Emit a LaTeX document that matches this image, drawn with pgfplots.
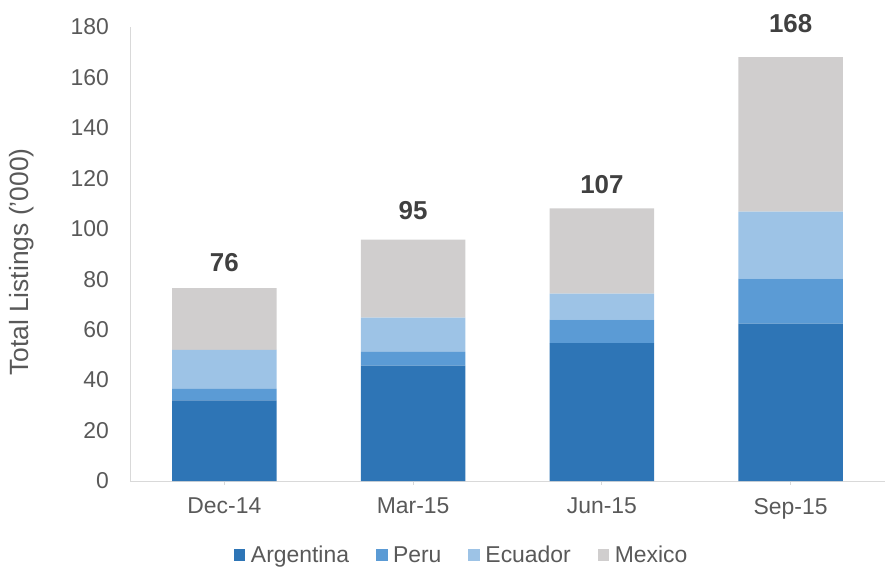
\documentclass[border=0pt]{standalone}
\usepackage{pgfplots}
\pgfplotsset{compat=1.18}
\usepackage{fontspec}
\setmainfont{Liberation Sans}
\definecolor{arg}{HTML}{2E75B6}
\definecolor{peru}{HTML}{5B9BD5}
\definecolor{ecu}{HTML}{9DC3E6}
\definecolor{mex}{HTML}{D0CECE}
\definecolor{txt}{HTML}{595959}
\definecolor{tot}{HTML}{404040}
\definecolor{axl}{HTML}{D9D9D9}
\begin{document}
\begin{tikzpicture}
\useasboundingbox (0,0) rectangle (888bp,568bp);
\begin{axis}[
  at={(130bp,87bp)}, anchor=south west,
  scale only axis, width=755bp, height=454bp,
  ybar stacked, bar width=0.553,
  xmin=-0.5, xmax=3.5, ymin=0, ymax=180,
  xtick=data, xticklabels={Dec-14,Mar-15,Jun-15,Sep-15},
  ytick={0,20,...,180},
  axis x line*=bottom, axis y line*=left,
  axis line style={axl, line width=1bp},
  every outer x axis line/.append style={-},
  every outer y axis line/.append style={-},
  x tick style={axl, line width=1bp}, major tick length=4bp, tick align=outside,
  xtick pos=bottom, ytick style={draw=none},
  tick label style={font=\fontsize{23}{25}\selectfont, text=txt, inner sep=0pt},
  /pgf/number format/assume math mode=true,
  yticklabel style={anchor=east, xshift=-17bp},
  xticklabel style={anchor=north, yshift=-13bp},
  ylabel={Total Listings ('000)},
  every axis y label/.style={at={(axis description cs:-0.143,0.482)}, rotate=90, anchor=center,
    font=\fontsize{26.5}{28}\selectfont, text=txt},
  legend style={at={(0.438,-0.163)}, anchor=center, draw=none, legend columns=4,
    font=\fontsize{23}{25}\selectfont, text=txt,
    nodes={inner sep=0pt},
    /tikz/every odd column/.append style={column sep=5.5bp},
    /tikz/every even column/.append style={column sep=27bp}},
  legend image code/.code={\fill[#1] (0bp,-5.8bp) rectangle (11.5bp,5.8bp);},
  legend cell align=left,
  clip=false,
]
\addplot[fill=arg, draw=none] coordinates {(0,32.0) (1,45.7) (2,54.7) (3,62.4)};
\addplot[fill=peru, draw=none] coordinates {(0,4.5) (1,5.5) (2,9.3) (3,17.8)};
\addplot[fill=ecu, draw=none] coordinates {(0,15.5) (1,13.6) (2,10.3) (3,26.6)};
\addplot[fill=mex, draw=none] coordinates {(0,24.5) (1,30.9) (2,33.8) (3,61.3)};
\legend{Argentina,Peru,Ecuador,Mexico}
\end{axis}
\begin{axis}[
  at={(130bp,87bp)}, anchor=south west,
  scale only axis, width=755bp, height=454bp,
  xmin=-0.5, xmax=3.5, ymin=0, ymax=180,
  hide axis, clip=false,
]
\addplot[only marks, mark=none, nodes near coords, point meta=explicit symbolic,
  nodes near coords style={anchor=south, inner sep=0pt, font=\bfseries\fontsize{26}{28}\selectfont, text=tot}]
  coordinates {(0,82.8)[76] (1,103.5)[95] (2,113.8)[107] (3,177.8)[168]};
\end{axis}
\end{tikzpicture}
\end{document}
